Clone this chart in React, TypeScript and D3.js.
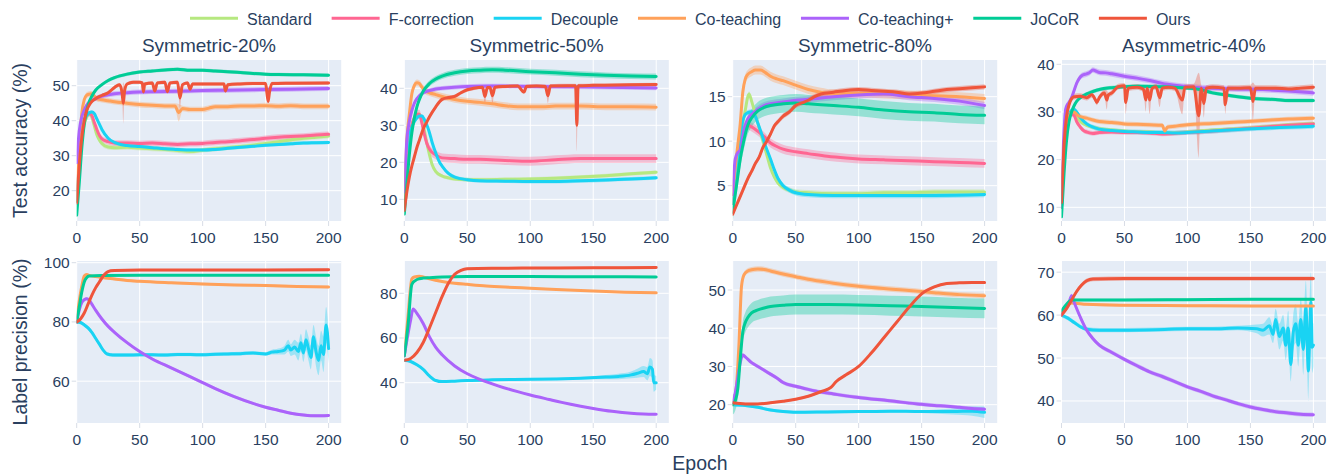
import React, { useMemo } from "react";
import * as d3 from "d3";

// [epoch, mean, optional spread]
type Pt = number[];

const methods = ["Standard", "F-correction", "Decouple", "Co-teaching", "Co-teaching+", "JoCoR", "Ours"];
const colors: Record<string, string> = {
  Standard: "#B6E880",
  "F-correction": "#FF6692",
  Decouple: "#19D3F3",
  "Co-teaching": "#FFA15A",
  "Co-teaching+": "#AB63FA",
  JoCoR: "#00CC96",
  Ours: "#EF553B",
};

const titles = ["Symmetric-20%", "Symmetric-50%", "Symmetric-80%", "Asymmetric-40%"];
const xTicks = [0, 50, 100, 150, 200];

// ---------- test accuracy ----------
const accSym20: Record<string, Pt[]> = {
  Standard: [[0,17],[2,27],[4,35],[6,39],[8,41],[10,42],[12,41],[14,38.5],[16,36],[18,34.5],[20,33.5],[25,32.5],[30,32.3],[40,32.4],[50,32.2],[60,32],[70,31.8],[80,31.5],[90,31.2],[100,31.6],[110,32],[120,32.3],[130,32.6],[140,33],[150,33.5],[160,34],[170,34.5],[180,35],[190,35.3],[200,35.6]],
  "F-correction": [[0,17],[2,28],[4,36],[6,40],[8,41.5],[10,42],[12,41.5],[14,39.5],[16,37.5],[18,35.8],[20,34.8],[25,34],[30,33.6],[40,33.6],[50,33.5],[60,33.6],[70,33.4],[80,33.2],[90,33.4],[100,33.5],[110,33.8],[120,34],[130,34.3],[140,34.6],[150,35],[160,35.3],[170,35.5],[180,35.6],[190,35.9],[200,36.1]],
  Decouple: [[0,17],[2,28],[4,36],[6,40],[8,41.5],[10,42.3],[12,42.5],[14,42],[16,40.5],[18,39],[20,37.5],[25,35],[30,33.8],[35,33.2],[40,32.9],[50,32.6],[60,32.3],[70,32],[80,31.8],[90,31.6],[100,31.6],[110,31.8],[120,32.1],[130,32.4],[140,32.7],[150,33],[160,33.2],[170,33.4],[180,33.6],[190,33.7],[200,33.8]],
  "Co-teaching": [[0,17],[2,32],[4,42],[6,46],[8,47.3],[10,47.6],[12,47.7],[14,47],[16,46.3],[20,46],[25,45.7],[30,45.4],[40,45],[50,44.6],[60,44.4],[70,44.2],[78,44.2],[81,42.3,2.5],[84,43.5],[90,43.2],[100,43.2],[105,43.6],[110,44],[120,44],[130,44.2],[140,44.2],[150,44.3],[160,44.1],[170,44.3],[180,44.1],[190,44.1],[200,44.1]],
  "Co-teaching+": [[0,28],[2,37],[4,41],[6,43],[8,44.5],[10,45.3],[12,45.8],[15,46.3],[20,47],[25,47.4],[30,47.7],[40,48],[50,48.2],[60,48.3],[80,48.4],[100,48.6],[120,48.7],[150,48.9],[170,49],[200,49.2]],
  JoCoR: [[0,13],[2,22],[4,32],[6,39],[8,43],[10,45.5],[12,47],[15,48.7],[20,50.3],[25,51.5],[30,52.3],[40,53.3],[50,53.9],[60,54.2],[70,54.5],[80,54.7],[90,54.4],[100,54.4],[110,54.2],[120,54],[130,53.8],[140,53.5],[150,53.3],[160,53.2],[180,53.1],[200,53]],
  Ours: [[0,16.5],[2,27],[4,35],[6,40],[8,43],[10,44.5],[12,45.5],[15,46.3],[20,47.2],[25,48],[30,49.5],[34,50.3],[36,48],[37,45,6],[38,48.5],[40,50.5],[45,51],[50,51],[52,50.8],[53,48.2],[54,50.5],[60,50.8],[62,48.5],[64,50.8],[70,51],[72,48.3],[74,50.8],[80,51],[82,46.5,3],[84,50.3],[88,50.8],[90,49],[92,50.5],[100,50.5],[110,50.5],[117,50.5],[118,48.5],[120,50.3],[130,50.5],[140,50.6],[150,50.6],[151,48],[152,45.5],[153,48],[155,50.6],[170,50.7],[200,50.8]],
};
const accSym20Sd: Record<string, number> = { Standard: 0.7, "F-correction": 0.8, Decouple: 0.5, "Co-teaching": 0.8, "Co-teaching+": 0.7, JoCoR: 0.5, Ours: 0.5 };

const accSym50: Record<string, Pt[]> = {
  Standard: [[0,8],[2,20],[4,27],[6,30],[8,32],[10,33],[12,33],[14,31.5],[16,28.5],[18,25],[20,22],[22,19.5],[25,17.5],[30,16.3],[35,15.8],[40,15.5],[50,15.3],[60,15.3],[80,15.4],[100,15.5],[120,15.7],[140,16],[160,16.4],[180,16.9],[200,17.3]],
  "F-correction": [[0,8],[2,20],[4,27],[6,30],[8,32],[10,33],[12,33],[14,30.5],[16,27.5],[18,25],[20,23.5],[25,22],[30,21.2],[40,21],[50,20.8],[60,20.8],[80,20.5],[100,20.3],[120,20.7],[140,21],[160,21],[180,21],[200,21]],
  Decouple: [[0,8],[2,20],[4,27],[6,29.5],[8,31],[10,32],[12,32.5],[14,32.5],[16,31.5],[18,30],[20,28],[22,25.5],[25,22.5],[28,20],[30,19],[35,17],[40,16],[50,15.3],[60,15],[80,14.9],[100,14.8],[120,14.8],[140,15],[160,15.2],[180,15.5],[200,15.8]],
  "Co-teaching": [[0,8],[2,26],[4,33],[6,38.5],[8,40.8],[10,41.5],[12,41.3],[14,40.3],[16,39.5],[20,38.8],[25,38.3],[30,37.8],[40,37],[50,36.5],[60,36.2],[70,35.8],[80,35.3],[90,35],[100,35],[110,35],[120,35.2],[140,35.2],[160,35],[180,35],[200,34.9]],
  "Co-teaching+": [[0,12],[2,26],[4,31],[6,34],[8,36],[10,37.2],[12,38],[15,38.8],[20,39.4],[25,39.8],[30,40],[40,40.3],[50,40.5],[70,40.6],[100,40.5],[130,40.4],[160,40.3],[200,40.1]],
  JoCoR: [[0,6],[2,14],[4,22],[6,28],[8,32],[10,35],[12,37],[15,39.2],[20,41.3],[25,42.5],[30,43.3],[40,44.2],[50,44.7],[60,44.9],[70,45],[80,44.9],[100,44.5],[120,44.2],[140,43.8],[160,43.5],[180,43.3],[200,43.2]],
  Ours: [[0,7],[2,12],[4,16],[6,19],[8,21.5],[10,24],[12,26],[15,29],[18,31],[20,32.3],[25,35],[30,37],[35,37.5],[40,37.8],[45,38.8],[50,39.6],[55,40],[62,40.3],[64,37.8,2],[66,40.2],[68,40.2],[70,38,2],[72,40.3],[80,40.5],[90,40.6],[95,39],[97,40.5],[105,40.6],[112,40.5],[114,38,2],[116,40.6],[130,40.7],[136,40.7],[137,30,7],[138,40.7],[150,40.8],[170,40.9],[200,41]],
};
const accSym50Sd: Record<string, number> = { Standard: 0.5, "F-correction": 1.2, Decouple: 0.5, "Co-teaching": 0.9, "Co-teaching+": 0.6, JoCoR: 0.8, Ours: 0.5 };

const accSym80: Record<string, Pt[]> = {
  Standard: [[0,3],[2,5],[4,8],[6,10],[8,12],[10,13.5],[12,15],[13,15.3],[15,14.5],[18,13],[20,12],[22,11],[25,9.5],[28,8],[30,7],[33,6],[36,5.3],[40,4.8],[45,4.5],[50,4.3],[60,4.2],[80,4.1],[100,4.1],[120,4.2],[140,4.2],[160,4.3],[180,4.3],[200,4.3]],
  "F-correction": [[0,3],[2,5],[4,7.5],[6,9.5],[8,11],[10,11.7],[12,11.8],[15,11.6],[20,11.1],[25,10.5],[30,9.8],[35,9.4],[40,9.1],[50,8.8],[60,8.6],[75,8.3],[90,8.1],[100,8],[120,7.9],[140,7.8],[160,7.7],[180,7.6],[200,7.5]],
  Decouple: [[0,3],[2,5],[4,8],[6,10.5],[8,12.3],[10,13],[12,13.2],[15,13.3],[18,12.8],[20,12],[23,10.8],[26,9.5],[30,8],[33,6.8],[36,5.8],[40,5],[45,4.5],[50,4.2],[60,4],[80,3.9],[100,3.9],[130,3.9],[160,3.9],[200,4]],
  "Co-teaching": [[0,4],[2,7],[4,9.5],[6,12],[8,15.5],[10,17],[12,17.5],[15,17.8],[18,18],[22,18],[26,17.7],[30,17.3],[35,17],[40,16.8],[50,16.3],[60,15.8],[70,15.5],[80,15.3],[100,15.4],[120,15.3],[140,15.2],[160,15.1],[180,15],[200,14.8]],
  "Co-teaching+": [[0,4],[2,8],[4,8.7],[6,9],[8,10.5],[10,11.8],[12,12.5],[15,13],[20,13.6],[25,14],[30,14.2],[40,14.4],[50,14.6],[60,14.7],[80,15],[100,15.2],[120,15.3],[140,15],[160,14.8],[180,14.5],[200,14]],
  JoCoR: [[0,2],[2,4],[4,6],[6,8],[8,9.5],[10,10.8],[12,11.8],[15,12.6],[20,13.4],[25,13.8],[30,14],[40,14.2],[50,14.3],[60,14.2],[70,14.1],[80,14],[100,13.8],[120,13.5],[140,13.3],[160,13.2],[180,13],[200,12.9]],
  Ours: [[0,1.8],[3,2.8],[6,3.8],[9,4.8],[12,5.8],[15,6.6],[18,7.5],[21,8.2],[24,9.3],[27,10],[30,10.8],[33,11.7],[36,12.2],[40,12.8],[45,13.3],[50,14],[55,14.3],[60,14.6],[65,15],[70,15.3],[80,15.5],[90,15.7],[100,15.8],[110,15.7],[120,15.6],[130,15.5],[140,15.3],[150,15.4],[160,15.6],[170,15.8],[180,15.9],[190,16],[200,16.1]],
};
const accSym80Sd: Record<string, number> = { Standard: 0.3, "F-correction": 0.5, Decouple: 0.3, "Co-teaching": 0.5, "Co-teaching+": 0.4, JoCoR: 1.0, Ours: 0.3 };

const accAsym40: Record<string, Pt[]> = {
  Standard: [[0,10],[2,22],[4,27],[6,29],[8,29.8],[10,29.8],[12,29],[15,28],[20,27.2],[25,26.8],[30,26.5],[40,26.2],[50,26],[60,25.8],[70,25.8],[80,25.6],[90,25.6],[100,25.8],[120,26.2],[140,26.5],[160,26.9],[180,27.3],[200,27.6]],
  "F-correction": [[0,10],[2,22],[4,27],[6,29],[8,29.5],[10,29.3],[12,28],[15,26.8],[18,26],[20,25.8],[25,25.5],[30,25.7],[40,25.8],[50,25.7],[60,25.7],[70,25.6],[80,25.4],[90,25.5],[100,25.7],[120,26],[140,26.4],[160,26.8],[180,27.2],[200,27.5]],
  Decouple: [[0,10],[2,22],[4,27],[6,29.5],[8,30.3],[10,30.5],[12,30],[15,28.8],[20,27.5],[25,26.8],[30,26.4],[40,26.1],[50,25.9],[60,25.8],[70,25.7],[80,25.7],[90,25.6],[100,25.7],[120,26],[140,26.3],[160,26.6],[180,26.8],[200,27]],
  "Co-teaching": [[0,10],[2,22],[4,27],[6,29],[8,30],[10,30],[12,29.5],[15,29],[20,28.7],[25,28.3],[30,28],[40,27.8],[50,27.5],[60,27.4],[70,27.3],[80,27.2],[82,26],[84,26.8],[90,27],[100,27.3],[120,27.6],[140,27.9],[160,28.2],[180,28.5],[200,28.7]],
  "Co-teaching+": [[0,10],[1,20],[2,26],[3,30],[4,31.2],[6,32],[8,33],[10,34.5],[12,36],[14,37],[16,37.6],[20,38],[22,38.2],[25,38.8],[28,38.5],[30,38.3],[35,38.2],[40,38],[50,37.5],[60,37.1],[70,36.6],[80,36],[90,35.6],[100,35.3],[110,35.1],[120,35],[140,34.8],[160,34.7],[180,34.4],[200,34]],
  JoCoR: [[0,8],[2,17],[4,24],[6,28],[8,30],[10,31.3],[12,32.2],[15,33],[20,33.8],[25,34.3],[30,34.7],[40,35.1],[50,35.3],[60,35.4],[80,35.3],[100,35],[110,34.7],[120,34],[130,33.6],[140,33.2],[150,32.9],[160,32.7],[170,32.6],[180,32.4],[200,32.4]],
  Ours: [[0,11],[2,23],[4,29],[6,31.5],[8,32.8],[10,33.2],[15,33.3],[20,33],[24,33.6],[27,32.5],[28,32],[30,33],[34,34],[36,32.5,2],[37,33.5],[40,34],[45,35.3],[50,35.5],[51,32,2.5],[53,35],[60,35.2],[65,34.8],[67,32.5,2.5],[68,35],[70,32.5,3],[72,35],[75,35.3],[78,33,2],[80,35],[85,35.2],[90,35],[96,32.5,3],[98,35.2],[105,35.3],[109,29.2,9],[111,35],[113,31.8,3],[115,35],[120,35.2],[129,35],[130,31.5,2],[132,35],[140,35],[150,35.1],[152,32.2,4],[154,35],[170,35],[180,34.8],[190,35],[200,35.2]],
};
const accAsym40Sd: Record<string, number> = { Standard: 0.4, "F-correction": 0.5, Decouple: 0.5, "Co-teaching": 0.5, "Co-teaching+": 0.6, JoCoR: 0.4, Ours: 0.6 };

// ---------- label precision ----------
const precSym20: Record<string, Pt[]> = {
  Decouple: [[0,80],[3,79.8],[6,79],[9,78],[12,76.5],[15,74.5],[18,72.5],[21,70.5],[24,69.2],[27,68.9],[30,68.8],[40,68.8],[50,68.9],[60,68.9],[70,68.8],[80,69],[90,69],[100,68.9],[110,69.1],[120,69.2],[130,69.3],[140,69.5],[150,69.2],[155,69.8,0.8],[160,70,1],[165,70.5,1.5],[168,72,2],[170,70.5,2],[173,71.5,2.5],[176,70,3],[178,73,3],[180,69.5,3],[182,74,3.5],[184,71,4],[186,68,4],[188,75,4],[190,70,5],[192,67,5],[194,72,5],[196,69,6],[198,79,6],[200,71,5]],
  "Co-teaching": [[0,80],[2,87],[4,92],[6,95.5],[8,96],[10,95.7],[15,95.3],[20,95],[30,94.5],[40,94],[50,93.7],[75,93.2],[100,92.8],[125,92.5],[150,92.3],[175,92],[200,91.8]],
  "Co-teaching+": [[0,80],[2,84],[4,86.5],[6,87.5],[8,87.8],[10,87.3],[12,86],[15,84],[20,81],[25,78.5],[30,76.5],[40,73],[50,70],[60,67.5],[75,64.5],[90,61.5],[100,59.5],[110,57.5],[125,54.8],[140,52.5],[150,51.2],[160,50.2],[170,49.2],[180,48.6],[190,48.3],[200,48.4]],
  JoCoR: [[0,80],[2,85],[4,90],[6,93.5],[8,95],[10,95.5],[20,95.7],[50,95.8],[100,95.8],[150,95.8],[200,95.8]],
  Ours: [[0,80],[3,81],[6,83],[9,86],[12,89],[15,91.5],[18,93.5],[21,95.5],[24,96.8],[27,97.3],[30,97.4],[50,97.5],[100,97.5],[150,97.5],[200,97.6]],
};
const precSym20Sd: Record<string, number> = { Decouple: 0.6, "Co-teaching": 0.4, "Co-teaching+": 0.5, JoCoR: 0.3, Ours: 0.4 };

const precSym50: Record<string, Pt[]> = {
  Decouple: [[0,50],[5,49.5],[10,48],[15,46],[20,43],[25,41],[30,40.5],[40,40.7],[50,41],[70,41.3],[100,41.5],[120,41.7],[140,42],[160,42.5,1],[170,42.8,1.2],[180,43.5,1.5],[185,44.2,2],[190,45,2.5],[193,44,3],[195,47,4],[197,46,4],[198,40,4],[200,40,3]],
  "Co-teaching": [[0,52],[3,70],[6,86.5],[8,87.3],[12,87.6],[15,87.3],[20,86.5],[30,85.3],[40,84.5],[50,84],[65,83.3],[80,82.8],[100,82.3],[125,81.6],[150,81],[175,80.5],[200,80.2]],
  "Co-teaching+": [[0,52],[3,62],[5,68],[7,73],[10,71],[15,66.5],[20,60.5],[25,55.8],[30,52.5],[40,47.5],[50,44],[60,41.5],[75,38.5],[90,36],[100,34.5],[115,32.5],[125,31.2],[140,29.5],[150,28.5],[165,27.2],[180,26.3],[190,26],[200,25.9]],
  JoCoR: [[0,52],[3,66],[6,84],[9,85.8],[12,86.5],[15,86.8],[20,87],[30,87.3],[50,87.5],[100,87.5],[150,87.4],[200,87.3]],
  Ours: [[0,50],[5,50.8],[10,53.5],[15,58],[20,64.5],[25,71.5],[30,78.5],[35,84.5],[40,88.5],[45,90.3],[50,91],[75,91.2],[100,91.3],[150,91.4],[200,91.5]],
};
const precSym50Sd: Record<string, number> = { Decouple: 0.5, "Co-teaching": 0.4, "Co-teaching+": 0.4, JoCoR: 0.3, Ours: 0.5 };

const precSym80: Record<string, Pt[]> = {
  Decouple: [[0,20],[10,19.8],[20,19.3],[30,18.6],[40,18.2],[50,18],[75,18.1],[100,18.2],[125,18.3],[150,18.2],[175,18.2,0.8],[190,18.3,1.2],[200,18,1.5]],
  "Co-teaching": [[0,20],[3,25],[5,36],[7,51],[9,54],[12,55],[15,55.3],[20,55.5],[25,55.4],[30,55],[40,54.2],[50,53.5],[60,52.8],[70,52.3],[80,51.8],[100,51],[120,50.4],[140,49.9],[150,49.6],[160,49.3],[170,49],[180,48.8],[200,48.5]],
  "Co-teaching+": [[0,20.5],[2,23],[4,27],[6,31],[8,33],[10,32.5],[15,31],[20,30],[25,29],[30,28],[35,27],[40,25.8],[50,24.8],[60,24],[70,23.3],[80,22.8],[90,22.3],[100,21.9],[110,21.5],[120,21.2],[130,20.8],[140,20.4],[150,20.1],[160,19.8],[170,19.6],[180,19.3],[190,19],[200,18.8]],
  JoCoR: [[0,20],[2,21],[4,24],[6,32],[8,39],[10,41.5],[12,42.8],[15,44],[20,44.8],[25,45.3],[30,45.7],[40,46],[50,46.2],[75,46.2],[100,46.1],[125,45.9],[150,45.7],[175,45.4],[200,45.2]],
  Ours: [[0,20.5],[10,20.2],[20,20.2],[30,20.5],[40,20.9],[50,21.4],[60,22.2],[70,23.4],[78,24.5],[82,26],[90,27.8],[100,30],[110,33.5],[120,37.5],[130,41.5],[140,45.5],[150,49],[160,50.8],[170,51.7],[180,51.9],[190,52],[200,52]],
};
const precSym80Sd: Record<string, number> = { Decouple: 0.4, "Co-teaching": 0.7, "Co-teaching+": 0.5, JoCoR: 2.6, Ours: 0.3 };

const precAsym40: Record<string, Pt[]> = {
  Decouple: [[0,60],[5,59.3],[10,58.3],[15,57.3],[20,56.7],[30,56.5],[50,56.5],[75,56.6],[100,56.8],[120,56.8],[140,57],[155,56.8,1],[160,56.5,1.5],[165,57.5,2],[168,55.5,2],[170,59,2.5],[173,55,3],[176,57,3],[178,53,3.5],[180,57,4],[182,48.5,4],[184,56,4],[186,58,4.5],[188,53,5],[190,59,5],[192,52,6],[194,62,6],[196,47,7],[198,63,7],[199,52.5,6],[200,53,5]],
  "Co-teaching": [[0,60],[4,62],[8,62.8],[20,62.5],[50,62.3],[100,62.2],[150,62.1],[200,62.1]],
  "Co-teaching+": [[0,60],[3,61.5],[6,63],[8,64.5],[10,63],[15,59.5],[20,56.5],[25,54.5],[30,53],[40,51.3],[50,49.7],[60,48.2],[70,46.8],[80,45.7],[90,44.5],[100,43.3],[110,42.3],[120,41.2],[130,40.3],[140,39.4],[150,38.6],[160,38],[170,37.5],[180,37.2],[190,36.9],[200,36.8]],
  JoCoR: [[0,61],[4,62.5],[8,63.5],[50,63.5],[100,63.6],[150,63.7],[200,63.7]],
  Ours: [[0,60],[4,61.5],[8,63.5],[12,65.5],[16,67],[20,68],[25,68.4],[50,68.5],[100,68.5],[150,68.5],[200,68.5]],
};
const precAsym40Sd: Record<string, number> = { Decouple: 0.5, "Co-teaching": 0.3, "Co-teaching+": 0.5, JoCoR: 0.3, Ours: 0.5 };

// ---------- layout ----------
const colLeft = [76.7, 404.3, 732.7, 1061.5];
const plotW = 264.5;
const rowTop = [60, 261];
const plotH = [161, 162];
const font = '"Liberation Sans", Arial, Helvetica, sans-serif';
const textColor = "#2a3f5f";

const panels = [
  { row: 0, col: 0, data: accSym20, sd: accSym20Sd, yDomain: [11.34, 57.34], yTicks: [20, 30, 40, 50] },
  { row: 0, col: 1, data: accSym50, sd: accSym50Sd, yDomain: [4.14, 47.65], yTicks: [10, 20, 30, 40] },
  { row: 0, col: 2, data: accSym80, sd: accSym80Sd, yDomain: [1.03, 19.12], yTicks: [5, 10, 15] },
  { row: 0, col: 3, data: accAsym40, sd: accAsym40Sd, yDomain: [7.13, 40.9], yTicks: [10, 20, 30, 40] },
  { row: 1, col: 0, data: precSym20, sd: precSym20Sd, yDomain: [45.88, 100.57], yTicks: [60, 80, 100] },
  { row: 1, col: 1, data: precSym50, sd: precSym50Sd, yDomain: [21.97, 94.45], yTicks: [40, 60, 80] },
  { row: 1, col: 2, data: precSym80, sd: precSym80Sd, yDomain: [15.2, 57.6], yTicks: [20, 30, 40, 50] },
  { row: 1, col: 3, data: precAsym40, sd: precAsym40Sd, yDomain: [34.87, 72.6], yTicks: [40, 50, 60, 70] },
];

function Panel({ p, idx }: { p: (typeof panels)[number]; idx: number }) {
  const left = colLeft[p.col];
  const top = rowTop[p.row];
  const h = plotH[p.row];
  const x = d3.scaleLinear().domain([0, 210]).range([left, left + plotW]);
  const y = d3.scaleLinear().domain(p.yDomain).range([top + h, top]);
  const clipId = `clip-${idx}`;
  const names = methods.filter((m) => p.data[m]);

  const line = d3
    .line<Pt>()
    .x((d) => x(d[0]))
    .y((d) => y(d[1]))
    .curve(d3.curveMonotoneX);

  return (
    <g>
      <defs>
        <clipPath id={clipId}>
          <rect x={left} y={top} width={plotW} height={h} />
        </clipPath>
      </defs>
      <rect x={left} y={top} width={plotW} height={h} fill="#E5ECF6" />
      {p.yTicks.map((t) => (
        <g key={"y" + t}>
          <line x1={left} x2={left + plotW} y1={y(t)} y2={y(t)} stroke="#fff" strokeWidth={1} />
          <line x1={left - 5} x2={left} y1={y(t)} y2={y(t)} stroke="#d8dde6" strokeWidth={1} />
          <text x={left - 7} y={y(t) + 5.5} textAnchor="end" fontSize={15.5} fill={textColor} fontFamily={font}>
            {t}
          </text>
        </g>
      ))}
      {xTicks.map((t) => (
        <g key={"x" + t}>
          <line x1={x(t)} x2={x(t)} y1={top} y2={top + h} stroke="#fff" strokeWidth={1} />
          <line x1={x(t)} x2={x(t)} y1={top + h} y2={top + h + 5} stroke="#d8dde6" strokeWidth={1} />
          <text x={x(t)} y={top + h + 21.5} textAnchor="middle" fontSize={15.5} fill={textColor} fontFamily={font}>
            {t}
          </text>
        </g>
      ))}
      <g clipPath={`url(#${clipId})`}>
        {names.map((m) => {
          const base = p.sd[m];
          const area = d3
            .area<Pt>()
            .x((d) => x(d[0]))
            .y0((d) => y(d[1] - (d[2] ?? base)))
            .y1((d) => y(d[1] + (d[2] ?? base)))
            .curve(d3.curveMonotoneX);
          return <path key={"a" + m} d={area(p.data[m]) || ""} fill={colors[m]} opacity={0.35} />;
        })}
        {names.map((m) => (
          <path
            key={"l" + m}
            d={line(p.data[m]) || ""}
            fill="none"
            stroke={colors[m]}
            strokeWidth={3}
            strokeLinejoin="round"
            strokeLinecap="round"
          />
        ))}
      </g>
      {p.row === 0 && (
        <text x={left + plotW / 2} y={52} textAnchor="middle" fontSize={19} fill={textColor} fontFamily={font}>
          {titles[p.col]}
        </text>
      )}
    </g>
  );
}

function Legend() {
  const widths = useMemo(() => {
    const ctx = document.createElement("canvas").getContext("2d");
    if (!ctx) return methods.map((m) => m.length * 8);
    ctx.font = `16px ${font}`;
    return methods.map((m) => ctx.measureText(m).width);
  }, []);
  let cur = 190;
  const items = methods.map((m, i) => {
    const x0 = cur;
    cur += 57 + widths[i] + 19.7;
    return { m, x0 };
  });
  return (
    <g>
      {items.map(({ m, x0 }) => (
        <g key={m}>
          <line x1={x0} x2={x0 + 48} y1={18.3} y2={18.3} stroke={colors[m]} strokeWidth={3} />
          <text x={x0 + 57} y={24.5} fontSize={16} fill={textColor} fontFamily={font}>
            {m}
          </text>
        </g>
      ))}
    </g>
  );
}

export default function App() {
  return (
    <svg width={1338} height={475} style={{ position: "absolute", left: 0, top: 0, background: "#fff" }}>
      <Legend />
      {panels.map((p, i) => (
        <Panel key={i} p={p} idx={i} />
      ))}
      <text
        transform={`translate(26.5, ${rowTop[0] + plotH[0] / 2}) rotate(-90)`}
        textAnchor="middle"
        fontSize={19.5}
        fill={textColor}
        fontFamily={font}
      >
        Test accuracy (%)
      </text>
      <text
        transform={`translate(26.5, ${rowTop[1] + plotH[1] / 2}) rotate(-90)`}
        textAnchor="middle"
        fontSize={19.5}
        fill={textColor}
        fontFamily={font}
      >
        Label precision (%)
      </text>
      <text x={700} y={470} textAnchor="middle" fontSize={19.5} fill={textColor} fontFamily={font}>
        Epoch
      </text>
    </svg>
  );
}
